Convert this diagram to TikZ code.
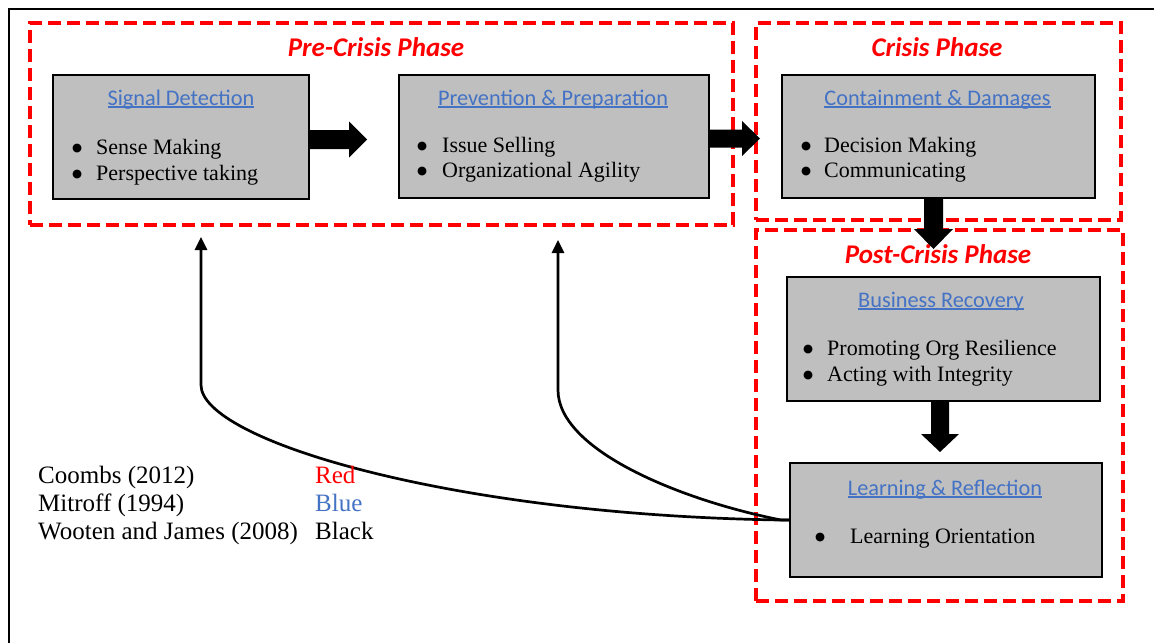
\documentclass[tikz,border=0pt]{standalone}
\usepackage{fontspec}
\setmainfont{Liberation Serif}
\newfontfamily\calfont{Carlito}
\newfontfamily\symfont{DejaVu Sans}
\usetikzlibrary{arrows.meta,calc}
\definecolor{wred}{HTML}{FF0000}
\definecolor{wblue}{HTML}{4472C4}
\definecolor{wgray}{HTML}{BFBFBF}
\newcommand\myul[1]{\setbox0\hbox{#1}\rlap{\rule[-2.6pt]{\wd0}{1.2pt}}\box0}
\newcommand\bul[2]{\makebox[#1][l]{\hspace*{-1pt}\raisebox{2.6pt}{\symfont\fontsize{11.5}{12}\selectfont ●}}#2}
\newcommand\twolines[2]{\begin{tabular}[t]{@{}l@{}}#1\\#2\end{tabular}}
\tikzset{
  phasebox/.style={draw=wred, line width=4pt, dash pattern=on 13pt off 6pt, anchor=north west, inner sep=0pt},
  gbox/.style={draw=black, line width=2pt, fill=wgray, anchor=north west, inner sep=0pt},
  phasetitle/.style={text=wred, font=\calfont\bfseries\itshape\fontsize{27}{31}\selectfont, anchor=base, inner sep=0pt},
  boxtitle/.style={text=wblue, font=\calfont\fontsize{22.3}{26}\selectfont, anchor=base, inner sep=0pt},
  item/.style={text=black, font=\fontsize{22}{26}\selectfont, anchor=base west, inner sep=0pt},
  itemb/.style={text=black, font=\fontsize{22}{25}\selectfont, anchor=base west, inner sep=0pt},
  legend/.style={font=\fontsize{25}{29}\selectfont, anchor=base west, inner sep=0pt},
  conn/.style={draw=black, line width=2.7pt, -{Triangle[length=13pt,width=12pt]}},
  blockarrow/.style={fill=black}
}
\begin{document}
\begin{tikzpicture}[x=1pt,y=-1pt]
\useasboundingbox (0,0) rectangle (1154,643);
% outer frame (top and left)
\draw[line width=2pt] (1154,8.5) -- (8.5,8.5) -- (8.5,643);
% phase boxes
\node[phasebox, minimum width=703pt, minimum height=202pt] (pre) at (28,21) {};
\node[phasebox, minimum width=365pt, minimum height=197pt] (cri) at (754,21) {};
\node[phasebox, minimum width=367pt, minimum height=371pt] (post) at (754,228) {};
\node[phasetitle] (pret) at (376,56) {Pre-Crisis Phase};
\node[phasetitle] (crit) at (937,56) {Crisis Phase};
\node[phasetitle] (postt) at (938,263) {Post-Crisis Phase};
% grey boxes
\node[gbox, minimum width=256pt, minimum height=124pt] (sd) at (52,74) {};
\node[gbox, minimum width=310pt, minimum height=123pt] (pp) at (398,74) {};
\node[gbox, minimum width=313pt, minimum height=123pt] (cd) at (781,74) {};
\node[gbox, minimum width=313pt, minimum height=124pt] (br) at (786,276) {};
\node[gbox, minimum width=312pt, minimum height=114pt] (lr) at (789,462) {};
% box texts
\node[boxtitle] (sdt) at (181,105) {\myul{Signal Detection}};
\node[item] (sdi) at (73,154) {\twolines{\bul{23pt}{Sense Making}}{\bul{23pt}{Perspective taking}}};
\node[boxtitle] (ppt) at (553,105) {\myul{Prevention \& Preparation}};
\node[itemb] (ppi) at (418,152) {\twolines{\bul{24pt}{Issue Selling}}{\bul{24pt}{Organizational Agility}}};
\node[boxtitle] (cdt) at (937.5,105) {\myul{Containment \& Damages}};
\node[itemb] (cdi) at (802,152) {\twolines{\bul{22pt}{Decision Making}}{\bul{22pt}{Communicating}}};
\node[boxtitle] (brt) at (941,307) {\myul{Business Recovery}};
\node[item] (bri) at (804,355) {\twolines{\bul{23pt}{Promoting Org Resilience}}{\bul{23pt}{Acting with Integrity}}};
\node[boxtitle] (lrt) at (945,495) {\myul{Learning \& Reflection}};
\node[item] (lr1) at (816,543) {\bul{34pt}{Learning Orientation}};
% block arrows
\coordinate (a1) at ($(sd.east)+(0,2.5)$);
\fill[blockarrow] (a1) ++(0,-9.5) -- ++(39,0) -- ++(0,-8.5) -- ++(18,18) -- ++(-18,18) -- ++(0,-8.5) -- ++(-39,0) -- cycle;
\coordinate (a2) at ($(pp.east)+(-2,2)$);
\fill[blockarrow] (a2) ++(0,-9) -- ++(34,0) -- ++(0,-8.5) -- ++(18,17.5) -- ++(-18,17.5) -- ++(0,-8.5) -- ++(-34,0) -- cycle;
\coordinate (a3) at ($(cd.south)+(-5,0)$);
\fill[blockarrow] (a3) ++(-9.5,0) -- ++(0,30) -- ++(-10,0) -- ++(19.5,20) -- ++(19.5,-20) -- ++(-10,0) -- ++(0,-30) -- cycle;
\coordinate (a4) at ($(br.south)+(-3.5,0)$);
\fill[blockarrow] (a4) ++(-9,0) -- ++(0,32) -- ++(-10,0) -- ++(19,18) -- ++(19,-18) -- ++(-10,0) -- ++(0,-32) -- cycle;
% feedback connectors
\coordinate (t1) at (201,237);
\coordinate (t2) at (558,240);
\draw[conn] (lr.west) -- ++(-8,0) .. controls (450,515) and (201,440) .. (201,385) -- (t1);
\draw[conn] (lr.west) -- ++(-8,0) .. controls (680,500) and (558,450) .. (558,390) -- (t2);
% legend
\node[legend] (l1) at (38,483) {Coombs (2012)};
\node[legend] (l2) at (38,511) {Mitroff (1994)};
\node[legend] (l3) at (38,539) {Wooten and James (2008)};
\node[legend, text=wred] (c1) at (315,483) {Red};
\node[legend, text=wblue] (c2) at (315,511) {Blue};
\node[legend] (c3) at (315,539) {Black};
\end{tikzpicture}
\end{document}
